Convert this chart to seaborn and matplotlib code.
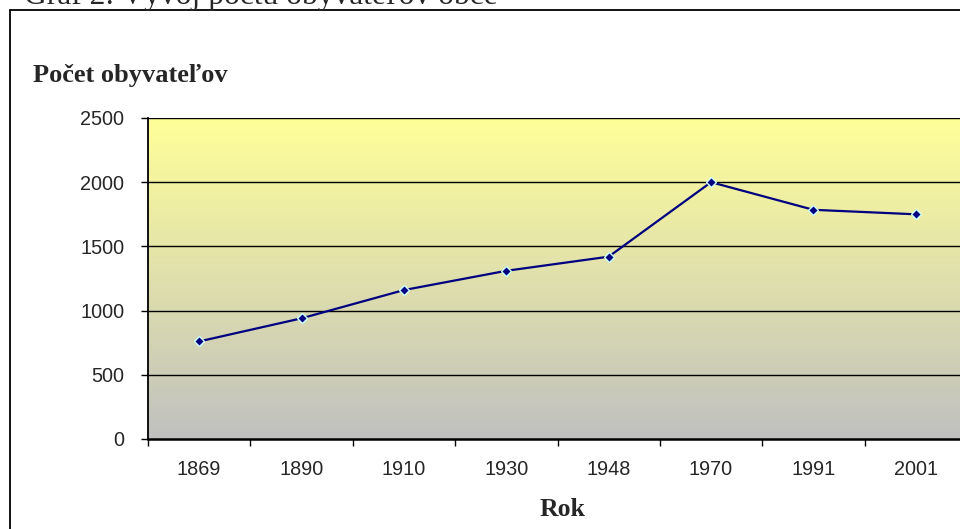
import matplotlib
matplotlib.use("Agg")
import matplotlib.pyplot as plt
from matplotlib.patches import Rectangle
from matplotlib.colors import LinearSegmentedColormap
import numpy as np
import pandas as pd
import seaborn as sns

years = ["1869", "1890", "1910", "1930", "1948", "1970", "1991", "2001"]
population = [760, 940, 1160, 1310, 1420, 2000, 1785, 1750]
y_ticks = [0, 500, 1000, 1500, 2000, 2500]

title_text = "Graf 2: Vývoj počtu obyvateľov obce"
y_label = "Počet obyvateľov"
x_label = "Rok"

sns.set_theme(style="white")
plt.rcParams['font.family'] = ['Liberation Sans', 'DejaVu Sans']

W, H = 960, 529
fig = plt.figure(figsize=(W / 100, H / 100), dpi=100)
fig.patch.set_facecolor("white")

# outer frame
fig.add_artist(Rectangle((10 / W, -0.1), 1.2, (H - 10) / H + 0.1, transform=fig.transFigure,
                         fill=False, edgecolor="black", linewidth=1.3))

# axes position (extends beyond right edge)
left, right, top, bottom = 148, 967, 118, 439
ax = fig.add_axes([left / W, (H - bottom) / H, (right - left) / W, (bottom - top) / H])

df = pd.DataFrame({"year": years, "pop": population})

# gradient background
cmap = LinearSegmentedColormap.from_list("bg", ["#C0C0C0", "#FFFF99"])
grad = np.linspace(0, 1, 256).reshape(-1, 1)
ax.imshow(grad, aspect="auto", cmap=cmap, origin="lower",
          extent=[-0.5, len(years) - 0.5, 0, 2500], zorder=0)

for v in y_ticks[1:]:
    ax.axhline(v, color="black", linewidth=1.0, zorder=1)

sns.lineplot(data=df, x="year", y="pop", ax=ax, color="#000080", linewidth=1.6,
             marker="D", markersize=5.5, markeredgecolor="#CCFFFF", markeredgewidth=1.0,
             sort=False, zorder=3)

ax.set_xlim(-0.5, len(years) - 0.5)
ax.set_ylim(0, 2500)
ax.set_yticks(y_ticks)
ax.set_yticklabels([str(t) for t in y_ticks], fontsize=14.3)
ax.set_xticks(range(len(years)))
ax.set_xticklabels(years, fontsize=14.3)
ax.set_xticks(np.arange(-0.5, len(years), 1.0), minor=True)
ax.tick_params(axis="x", which="major", length=0, pad=15)
ax.tick_params(axis="x", which="minor", length=5, width=1, color="black", direction="out", bottom=True)
ax.tick_params(axis="y", which="major", length=5, width=1, color="black", direction="out", left=True, pad=12)
ax.set_xlabel("")
ax.set_ylabel("")
for s in ["top", "right"]:
    ax.spines[s].set_visible(False)
for s in ["left", "bottom"]:
    ax.spines[s].set_color("black")
ax.spines["bottom"].set_linewidth(1.8)
ax.spines["left"].set_linewidth(1.3)
ax.grid(False)

fig.text(33 / W, 1 - 82 / H, y_label, fontsize=19, fontweight="bold",
         family=["Liberation Serif", "DejaVu Serif"], ha="left", va="baseline")
fig.text(562 / W, 1 - 510 / H, x_label, fontsize=18.5, fontweight="bold",
         family=["Liberation Serif", "DejaVu Serif"], ha="center", va="center")
fig.text(24 / W, 1 - 4 / H, title_text, fontsize=22.7,
         family=["Liberation Serif", "DejaVu Serif"], ha="left", va="baseline")

fig.savefig("out.png", dpi=100)
